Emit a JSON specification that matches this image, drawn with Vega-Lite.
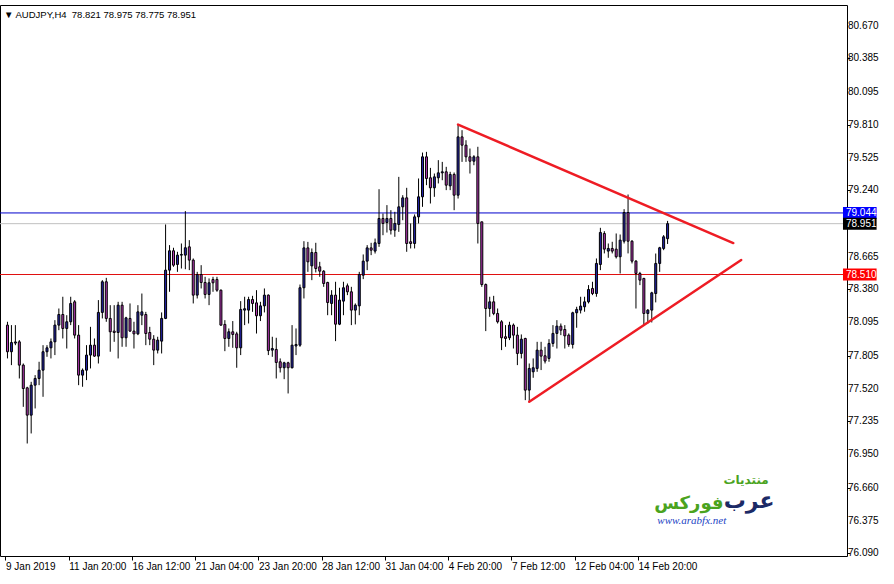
{
  "$schema": "https://vega.github.io/schema/vega-lite/v6.json",
  "width": 847,
  "height": 551,
  "autosize": {"type": "none"},
  "padding": {"left": 0, "top": 5, "right": 47, "bottom": 28},
  "background": "#ffffff",
  "config": {
    "view": {"stroke": "#000000", "strokeWidth": 1},
    "font": "Liberation Sans",
    "axis": {"labelFont": "Liberation Sans", "labelFontSize": 10, "labelColor": "#000000", "tickColor": "#000000", "grid": false, "domain": false, "labelOverlap": false, "labelBound": false, "labelFlush": false}
  },
  "title": {
    "text": "\u25bc AUDJPY,H4\u00a0\u00a078.821 78.975 78.775 78.951",
    "anchor": "start",
    "frame": "group",
    "offset": -19,
    "baseline": "middle",
    "dx": 4,
    "fontSize": 9.5,
    "fontWeight": "normal",
    "font": "Liberation Sans",
    "color": "#000000"
  },
  "datasets": {
    "candles": [
      {"i":0,"o":78.071,"h":78.100,"l":77.782,"c":77.840},
      {"i":1,"o":77.840,"h":78.071,"l":77.724,"c":77.920},
      {"i":2,"o":77.915,"h":78.071,"l":77.897,"c":77.925},
      {"i":3,"o":77.926,"h":77.941,"l":77.608,"c":77.724},
      {"i":4,"o":77.724,"h":77.738,"l":77.362,"c":77.521},
      {"i":5,"o":77.527,"h":77.536,"l":77.044,"c":77.290},
      {"i":6,"o":77.290,"h":77.579,"l":77.131,"c":77.550},
      {"i":7,"o":77.550,"h":77.637,"l":77.348,"c":77.608},
      {"i":8,"o":77.608,"h":77.753,"l":77.550,"c":77.680},
      {"i":9,"o":77.680,"h":77.897,"l":77.449,"c":77.840},
      {"i":10,"o":77.840,"h":77.897,"l":77.796,"c":77.874},
      {"i":11,"o":77.874,"h":77.955,"l":77.782,"c":77.926},
      {"i":12,"o":77.926,"h":78.114,"l":77.811,"c":78.071},
      {"i":13,"o":78.071,"h":78.215,"l":78.027,"c":78.163},
      {"i":14,"o":78.163,"h":78.317,"l":77.955,"c":78.042},
      {"i":15,"o":78.042,"h":78.157,"l":77.868,"c":78.100},
      {"i":16,"o":78.100,"h":78.317,"l":78.071,"c":78.259},
      {"i":17,"o":78.273,"h":78.288,"l":77.955,"c":77.984},
      {"i":18,"o":77.984,"h":78.071,"l":77.550,"c":77.637},
      {"i":19,"o":77.637,"h":77.695,"l":77.536,"c":77.680},
      {"i":20,"o":77.680,"h":77.897,"l":77.594,"c":77.811},
      {"i":21,"o":77.811,"h":78.056,"l":77.695,"c":77.897},
      {"i":22,"o":77.897,"h":77.955,"l":77.796,"c":77.802},
      {"i":23,"o":77.802,"h":78.288,"l":77.738,"c":78.181},
      {"i":24,"o":78.181,"h":78.461,"l":78.129,"c":78.447},
      {"i":25,"o":78.447,"h":78.481,"l":78.100,"c":78.129},
      {"i":26,"o":78.129,"h":78.244,"l":77.840,"c":78.013},
      {"i":27,"o":78.019,"h":78.244,"l":77.926,"c":78.007},
      {"i":28,"o":78.007,"h":78.273,"l":77.782,"c":78.244},
      {"i":29,"o":78.244,"h":78.273,"l":77.883,"c":77.961},
      {"i":30,"o":77.961,"h":78.143,"l":77.883,"c":78.134},
      {"i":31,"o":78.129,"h":78.259,"l":78.013,"c":78.019},
      {"i":32,"o":78.019,"h":78.100,"l":77.868,"c":77.995},
      {"i":33,"o":77.995,"h":78.244,"l":77.984,"c":78.186},
      {"i":34,"o":78.157,"h":78.345,"l":78.071,"c":78.186},
      {"i":35,"o":78.163,"h":78.186,"l":77.897,"c":77.998},
      {"i":36,"o":78.007,"h":78.056,"l":77.897,"c":77.949},
      {"i":37,"o":77.949,"h":77.984,"l":77.724,"c":77.854},
      {"i":38,"o":77.854,"h":77.970,"l":77.825,"c":77.941},
      {"i":39,"o":77.932,"h":78.181,"l":77.825,"c":78.129},
      {"i":40,"o":78.129,"h":78.944,"l":78.123,"c":78.548},
      {"i":41,"o":78.548,"h":78.765,"l":78.360,"c":78.716},
      {"i":42,"o":78.716,"h":78.742,"l":78.577,"c":78.591},
      {"i":43,"o":78.597,"h":78.707,"l":78.533,"c":78.678},
      {"i":44,"o":78.678,"h":78.779,"l":78.562,"c":78.684},
      {"i":45,"o":78.678,"h":79.060,"l":78.556,"c":78.742},
      {"i":46,"o":78.750,"h":78.808,"l":78.548,"c":78.635},
      {"i":47,"o":78.635,"h":78.649,"l":78.259,"c":78.331},
      {"i":48,"o":78.331,"h":78.533,"l":78.302,"c":78.510},
      {"i":49,"o":78.510,"h":78.591,"l":78.389,"c":78.441},
      {"i":50,"o":78.441,"h":78.490,"l":78.302,"c":78.337},
      {"i":51,"o":78.337,"h":78.476,"l":78.244,"c":78.438},
      {"i":52,"o":78.467,"h":78.490,"l":78.360,"c":78.438},
      {"i":53,"o":78.467,"h":78.490,"l":78.360,"c":78.374},
      {"i":54,"o":78.374,"h":78.380,"l":78.065,"c":78.071},
      {"i":55,"o":78.077,"h":78.114,"l":77.845,"c":77.955},
      {"i":56,"o":77.955,"h":78.042,"l":77.883,"c":78.013},
      {"i":57,"o":78.013,"h":78.106,"l":77.874,"c":77.990},
      {"i":58,"o":77.995,"h":78.013,"l":77.701,"c":77.874},
      {"i":59,"o":77.874,"h":78.279,"l":77.811,"c":78.207},
      {"i":60,"o":78.201,"h":78.317,"l":78.071,"c":78.213},
      {"i":61,"o":78.201,"h":78.317,"l":78.085,"c":78.293},
      {"i":62,"o":78.293,"h":78.325,"l":78.186,"c":78.259},
      {"i":63,"o":78.264,"h":78.374,"l":77.998,"c":78.152},
      {"i":64,"o":78.152,"h":78.273,"l":78.106,"c":78.238},
      {"i":65,"o":78.238,"h":78.389,"l":78.181,"c":78.331},
      {"i":66,"o":78.331,"h":78.337,"l":77.811,"c":77.850},
      {"i":67,"o":77.854,"h":77.970,"l":77.796,"c":77.868},
      {"i":68,"o":77.860,"h":77.961,"l":77.608,"c":77.747},
      {"i":69,"o":77.753,"h":77.782,"l":77.660,"c":77.701},
      {"i":70,"o":77.701,"h":77.753,"l":77.602,"c":77.744},
      {"i":71,"o":77.744,"h":77.753,"l":77.478,"c":77.701},
      {"i":72,"o":77.701,"h":78.071,"l":77.695,"c":77.897},
      {"i":73,"o":77.890,"h":78.042,"l":77.811,"c":77.903},
      {"i":74,"o":77.897,"h":78.423,"l":77.883,"c":78.395},
      {"i":75,"o":78.395,"h":78.799,"l":78.302,"c":78.741},
      {"i":76,"o":78.741,"h":78.793,"l":78.533,"c":78.620},
      {"i":77,"o":78.585,"h":78.736,"l":78.461,"c":78.701},
      {"i":78,"o":78.701,"h":78.785,"l":78.528,"c":78.562},
      {"i":79,"o":78.577,"h":78.620,"l":78.490,"c":78.539},
      {"i":80,"o":78.539,"h":78.548,"l":78.403,"c":78.432},
      {"i":81,"o":78.441,"h":78.447,"l":78.157,"c":78.267},
      {"i":82,"o":78.259,"h":78.374,"l":78.157,"c":78.331},
      {"i":83,"o":78.331,"h":78.447,"l":77.932,"c":78.079},
      {"i":84,"o":78.079,"h":78.395,"l":78.071,"c":78.288},
      {"i":85,"o":78.279,"h":78.447,"l":78.157,"c":78.395},
      {"i":86,"o":78.412,"h":78.432,"l":78.331,"c":78.360},
      {"i":87,"o":78.360,"h":78.403,"l":78.071,"c":78.201},
      {"i":88,"o":78.201,"h":78.259,"l":78.077,"c":78.244},
      {"i":89,"o":78.238,"h":78.533,"l":78.157,"c":78.510},
      {"i":90,"o":78.504,"h":78.684,"l":78.470,"c":78.626},
      {"i":91,"o":78.626,"h":78.765,"l":78.548,"c":78.741},
      {"i":92,"o":78.741,"h":78.785,"l":78.678,"c":78.721},
      {"i":93,"o":78.713,"h":78.822,"l":78.692,"c":78.785},
      {"i":94,"o":78.779,"h":79.250,"l":78.750,"c":78.996},
      {"i":95,"o":78.996,"h":79.039,"l":78.851,"c":78.953},
      {"i":96,"o":78.961,"h":79.112,"l":78.874,"c":78.996},
      {"i":97,"o":78.996,"h":79.068,"l":78.857,"c":78.895},
      {"i":98,"o":78.895,"h":79.054,"l":78.837,"c":78.953},
      {"i":99,"o":78.944,"h":79.357,"l":78.880,"c":79.097},
      {"i":100,"o":79.097,"h":79.198,"l":78.981,"c":79.175},
      {"i":101,"o":79.175,"h":79.262,"l":78.707,"c":78.779},
      {"i":102,"o":78.794,"h":78.953,"l":78.736,"c":78.779},
      {"i":103,"o":78.779,"h":79.031,"l":78.736,"c":79.010},
      {"i":104,"o":79.010,"h":79.343,"l":78.953,"c":79.184},
      {"i":105,"o":79.184,"h":79.568,"l":79.097,"c":79.531},
      {"i":106,"o":79.531,"h":79.574,"l":79.285,"c":79.343},
      {"i":107,"o":79.349,"h":79.435,"l":79.126,"c":79.262},
      {"i":108,"o":79.262,"h":79.386,"l":79.184,"c":79.357},
      {"i":109,"o":79.349,"h":79.502,"l":79.300,"c":79.392},
      {"i":110,"o":79.392,"h":79.487,"l":79.328,"c":79.401},
      {"i":111,"o":79.401,"h":79.444,"l":79.242,"c":79.285},
      {"i":112,"o":79.279,"h":79.401,"l":79.242,"c":79.378},
      {"i":113,"o":79.378,"h":79.395,"l":79.068,"c":79.198},
      {"i":114,"o":79.198,"h":79.811,"l":79.169,"c":79.704},
      {"i":115,"o":79.704,"h":79.762,"l":79.487,"c":79.632},
      {"i":116,"o":79.632,"h":79.675,"l":79.487,"c":79.531},
      {"i":117,"o":79.531,"h":79.603,"l":79.386,"c":79.493},
      {"i":118,"o":79.493,"h":79.545,"l":79.458,"c":79.531},
      {"i":119,"o":79.531,"h":79.618,"l":78.779,"c":78.953},
      {"i":120,"o":78.967,"h":78.967,"l":78.403,"c":78.423},
      {"i":121,"o":78.423,"h":78.432,"l":78.019,"c":78.215},
      {"i":122,"o":78.215,"h":78.317,"l":78.143,"c":78.273},
      {"i":123,"o":78.273,"h":78.325,"l":78.157,"c":78.172},
      {"i":124,"o":78.172,"h":78.215,"l":78.085,"c":78.100},
      {"i":125,"o":78.100,"h":78.114,"l":77.854,"c":77.961},
      {"i":126,"o":77.970,"h":78.071,"l":77.883,"c":77.955},
      {"i":127,"o":77.961,"h":78.100,"l":77.941,"c":78.071},
      {"i":128,"o":78.071,"h":78.085,"l":77.868,"c":77.984},
      {"i":129,"o":77.984,"h":78.056,"l":77.724,"c":77.825},
      {"i":130,"o":77.825,"h":77.990,"l":77.782,"c":77.949},
      {"i":131,"o":77.955,"h":77.961,"l":77.420,"c":77.507},
      {"i":132,"o":77.507,"h":77.738,"l":77.406,"c":77.695},
      {"i":133,"o":77.666,"h":77.782,"l":77.614,"c":77.701},
      {"i":134,"o":77.695,"h":77.926,"l":77.666,"c":77.854},
      {"i":135,"o":77.854,"h":77.926,"l":77.681,"c":77.802},
      {"i":136,"o":77.805,"h":77.883,"l":77.738,"c":77.759},
      {"i":137,"o":77.782,"h":77.949,"l":77.753,"c":77.912},
      {"i":138,"o":77.912,"h":78.071,"l":77.883,"c":77.999},
      {"i":139,"o":77.999,"h":78.114,"l":77.868,"c":78.062},
      {"i":140,"o":78.062,"h":78.085,"l":77.984,"c":78.027},
      {"i":141,"o":78.033,"h":78.071,"l":77.868,"c":77.978},
      {"i":142,"o":77.984,"h":77.999,"l":77.883,"c":77.903},
      {"i":143,"o":77.903,"h":78.187,"l":77.868,"c":78.178},
      {"i":144,"o":78.178,"h":78.230,"l":78.048,"c":78.207},
      {"i":145,"o":78.201,"h":78.317,"l":78.172,"c":78.236},
      {"i":146,"o":78.230,"h":78.317,"l":78.187,"c":78.273},
      {"i":147,"o":78.273,"h":78.418,"l":78.259,"c":78.380},
      {"i":148,"o":78.389,"h":78.447,"l":78.331,"c":78.345},
      {"i":149,"o":78.345,"h":78.649,"l":78.317,"c":78.606},
      {"i":150,"o":78.597,"h":78.915,"l":78.548,"c":78.875},
      {"i":151,"o":78.866,"h":78.886,"l":78.693,"c":78.730},
      {"i":152,"o":78.713,"h":78.779,"l":78.655,"c":78.736},
      {"i":153,"o":78.736,"h":78.794,"l":78.693,"c":78.713},
      {"i":154,"o":78.730,"h":78.866,"l":78.649,"c":78.664},
      {"i":155,"o":78.664,"h":78.857,"l":78.519,"c":78.808},
      {"i":156,"o":78.799,"h":79.077,"l":78.779,"c":79.048},
      {"i":157,"o":79.048,"h":79.204,"l":78.693,"c":78.799},
      {"i":158,"o":78.799,"h":78.808,"l":78.606,"c":78.626},
      {"i":159,"o":78.626,"h":78.635,"l":78.215,"c":78.519},
      {"i":160,"o":78.519,"h":78.533,"l":78.418,"c":78.461},
      {"i":161,"o":78.476,"h":78.481,"l":78.071,"c":78.172},
      {"i":162,"o":78.172,"h":78.210,"l":78.085,"c":78.201},
      {"i":163,"o":78.201,"h":78.360,"l":78.094,"c":78.351},
      {"i":164,"o":78.345,"h":78.692,"l":78.268,"c":78.606},
      {"i":165,"o":78.606,"h":78.750,"l":78.533,"c":78.742},
      {"i":166,"o":78.736,"h":78.852,"l":78.721,"c":78.837},
      {"i":167,"o":78.821,"h":78.975,"l":78.775,"c":78.951}
    ],
    "trend": [
      {"seg":"upper","i":114,"p":79.811},
      {"seg":"upper","i":183.625,"p":78.783},
      {"seg":"lower","i":132,"p":77.406},
      {"seg":"lower","i":185.625,"p":78.636}
    ],
    "levels": [
      {"p":79.044,"t":"79.044","k":"ask"},
      {"p":78.951,"t":"78.951","k":"bid"},
      {"p":78.510,"t":"78.510","k":"level"}
    ],
    "ticks": [
      {"p":80.670},{"p":80.385},{"p":80.095},{"p":79.810},{"p":79.525},{"p":79.240},{"p":78.665},{"p":78.380},
      {"p":78.095},{"p":77.805},{"p":77.520},{"p":77.235},{"p":76.950},{"p":76.660},{"p":76.375},{"p":76.090}
    ],
    "logo": [
      {"t":"منتديات","i":186.875,"p":76.728,"part":"small"},
      {"t":"فوركس","i":172.375,"p":76.519,"part":"green"},
      {"t":"عرب","i":187.625,"p":76.545,"part":"navy"},
      {"t":"www.arabfx.net","i":173.125,"p":76.372,"part":"url"}
    ]
  },
  "layer": [
    {
      "data": {"name": "levels"},
      "mark": {"type": "rule", "strokeWidth": 1},
      "encoding": {
        "y": {"field": "p", "type": "quantitative", "scale": {"domain": [76.068, 80.848], "nice": false, "zero": false},
          "axis": {"orient": "right", "title": null, "values": [80.670, 80.385, 80.095, 79.810, 79.525, 79.240, 78.665, 78.380, 78.095, 77.805, 77.520, 77.235, 76.950, 76.660, 76.375, 76.090], "labels": false, "tickSize": 3, "grid": false, "domain": false}},
        "color": {"field": "k", "type": "nominal", "scale": {"domain": ["ask", "bid", "level"], "range": ["#0000cc", "#c0c0c0", "#e01010"]}, "legend": null}
      }
    },
    {
      "data": {"name": "ticks"},
      "mark": {"type": "text", "align": "left", "baseline": "middle", "color": "#000000", "fontSize": 10, "font": "Liberation Sans", "dx": 6},
      "encoding": {
        "x": {"datum": 211.125, "type": "quantitative", "scale": {"domain": [-0.625, 211.125], "nice": false, "zero": false}},
        "y": {"field": "p", "type": "quantitative", "scale": {"domain": [76.068, 80.848], "nice": false, "zero": false}},
        "text": {"field": "p", "type": "quantitative", "format": ".3f"}
      }
    },
    {
      "data": {"name": "candles"},
      "mark": {"type": "rule", "color": "#000000", "strokeWidth": 1},
      "encoding": {
        "x": {"field": "i", "type": "quantitative", "scale": {"domain": [-0.625, 211.125], "nice": false, "zero": false},
          "axis": {"orient": "bottom", "title": null, "values": [-0.5, 15.5, 31.5, 47.5, 63.5, 79.5, 95.5, 111.5, 127.5, 143.5, 159.5],
            "labelExpr": "['9 Jan 2019','11 Jan 20:00','16 Jan 12:00','21 Jan 04:00','23 Jan 20:00','28 Jan 12:00','31 Jan 04:00','4 Feb 20:00','7 Feb 12:00','12 Feb 04:00','14 Feb 20:00'][round((datum.value+0.5)/16)]",
            "labelAlign": "left", "labelDx": 2, "tickSize": 4, "labelPadding": 1, "labelOverlap": false, "labelBound": false, "labelFlush": false, "grid": false, "domain": false}},
        "y": {"field": "l", "type": "quantitative", "scale": {"domain": [76.068, 80.848], "nice": false, "zero": false}},
        "y2": {"field": "h"}
      }
    },
    {
      "data": {"name": "candles"},
      "mark": {"type": "bar", "width": 2, "stroke": "#000000", "strokeWidth": 1},
      "encoding": {
        "x": {"field": "i", "type": "quantitative", "scale": {"domain": [-0.625, 211.125], "nice": false, "zero": false}},
        "y": {"field": "o", "type": "quantitative", "scale": {"domain": [76.068, 80.848], "nice": false, "zero": false}},
        "y2": {"field": "c"},
        "fill": {"condition": {"test": "datum.c >= datum.o", "value": "#2424a8"}, "value": "#b236b2"}
      }
    },
    {
      "data": {"name": "trend"},
      "mark": {"type": "line", "color": "#ee1c24", "strokeWidth": 2.5, "strokeCap": "round"},
      "encoding": {
        "x": {"field": "i", "type": "quantitative", "scale": {"domain": [-0.625, 211.125], "nice": false, "zero": false}},
        "y": {"field": "p", "type": "quantitative", "scale": {"domain": [76.068, 80.848], "nice": false, "zero": false}},
        "detail": {"field": "seg", "type": "nominal"}
      }
    },
    {
      "data": {"name": "levels"},
      "mark": {"type": "rect", "yOffset": -6, "y2Offset": 6},
      "encoding": {
        "x": {"datum": 211.375, "type": "quantitative", "scale": {"domain": [-0.625, 211.125], "nice": false, "zero": false}},
        "x2": {"datum": 219.875},
        "y": {"field": "p", "type": "quantitative", "scale": {"domain": [76.068, 80.848], "nice": false, "zero": false}},
        "y2": {"field": "p"},
        "fill": {"field": "k", "type": "nominal", "scale": {"domain": ["ask", "bid", "level"], "range": ["#0000ff", "#000000", "#ff0000"]}, "legend": null}
      }
    },
    {
      "data": {"name": "levels"},
      "mark": {"type": "text", "align": "left", "baseline": "middle", "color": "#ffffff", "fontSize": 10, "font": "Liberation Sans"},
      "encoding": {
        "x": {"datum": 212.125, "type": "quantitative", "scale": {"domain": [-0.625, 211.125], "nice": false, "zero": false}},
        "y": {"field": "p", "type": "quantitative", "scale": {"domain": [76.068, 80.848], "nice": false, "zero": false}},
        "text": {"field": "t"}
      }
    },
    {
      "data": {"name": "logo"},
      "transform": [{"filter": "datum.part == 'green'"}],
      "mark": {"type": "text", "align": "center", "baseline": "middle", "color": "#4aa31e", "fontSize": 18, "fontWeight": "bold", "font": "DejaVu Sans"},
      "encoding": {
        "x": {"field": "i", "type": "quantitative", "scale": {"domain": [-0.625, 211.125], "nice": false, "zero": false}},
        "y": {"field": "p", "type": "quantitative", "scale": {"domain": [76.068, 80.848], "nice": false, "zero": false}},
        "text": {"field": "t"}
      }
    },
    {
      "data": {"name": "logo"},
      "transform": [{"filter": "datum.part == 'navy'"}],
      "mark": {"type": "text", "align": "center", "baseline": "middle", "color": "#1c2a66", "fontSize": 22, "fontWeight": "bold", "font": "DejaVu Sans"},
      "encoding": {
        "x": {"field": "i", "type": "quantitative", "scale": {"domain": [-0.625, 211.125], "nice": false, "zero": false}},
        "y": {"field": "p", "type": "quantitative", "scale": {"domain": [76.068, 80.848], "nice": false, "zero": false}},
        "text": {"field": "t"}
      }
    },
    {
      "data": {"name": "logo"},
      "transform": [{"filter": "datum.part == 'small'"}],
      "mark": {"type": "text", "align": "center", "baseline": "middle", "color": "#4aa31e", "fontSize": 12, "fontWeight": "bold", "font": "DejaVu Sans"},
      "encoding": {
        "x": {"field": "i", "type": "quantitative", "scale": {"domain": [-0.625, 211.125], "nice": false, "zero": false}},
        "y": {"field": "p", "type": "quantitative", "scale": {"domain": [76.068, 80.848], "nice": false, "zero": false}},
        "text": {"field": "t"}
      }
    },
    {
      "data": {"name": "logo"},
      "transform": [{"filter": "datum.part == 'url'"}],
      "mark": {"type": "text", "align": "center", "baseline": "middle", "color": "#2143c4", "fontSize": 11, "fontStyle": "italic", "font": "Liberation Serif"},
      "encoding": {
        "x": {"field": "i", "type": "quantitative", "scale": {"domain": [-0.625, 211.125], "nice": false, "zero": false}},
        "y": {"field": "p", "type": "quantitative", "scale": {"domain": [76.068, 80.848], "nice": false, "zero": false}},
        "text": {"field": "t"}
      }
    }
  ]
}
